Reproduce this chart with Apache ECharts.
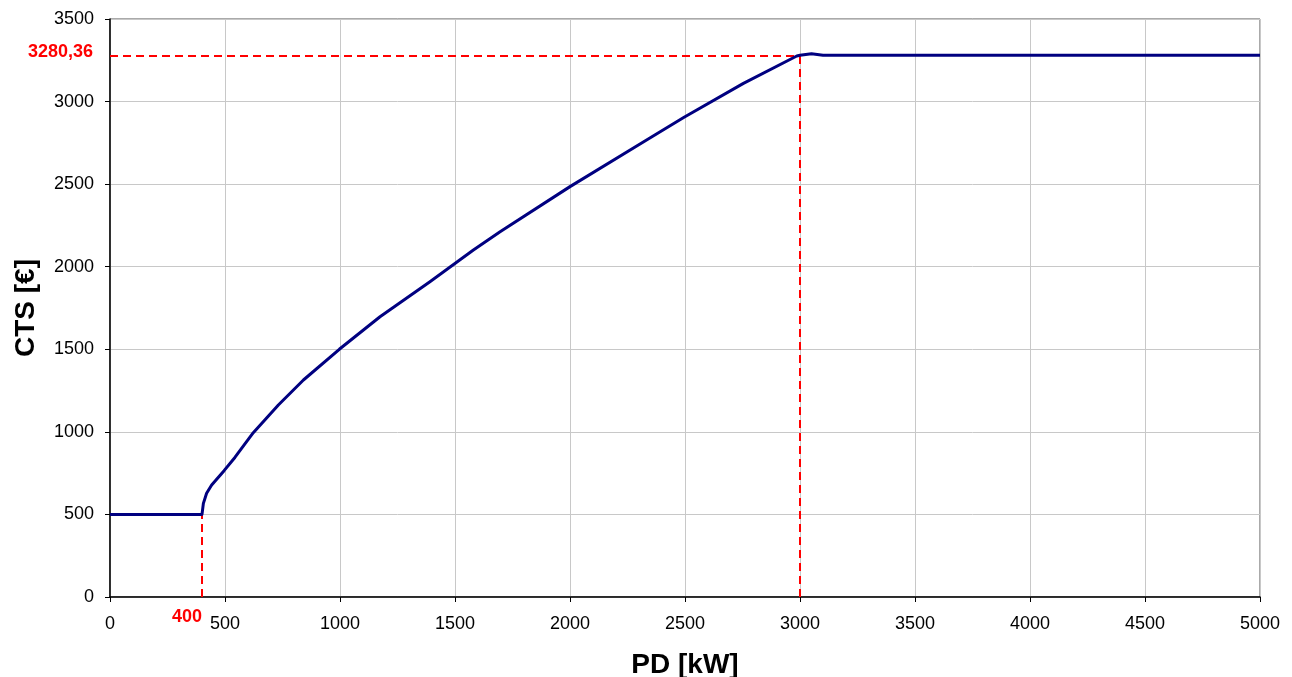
<!DOCTYPE html>
<html>
<head>
<meta charset="utf-8">
<script src="https://cdn.jsdelivr.net/npm/echarts@6/dist/echarts.min.js"></script>
<style>html,body{margin:0;padding:0;background:#fff}#c{width:1292px;height:677px}</style>
</head>
<body>
<div id="c"></div>
<script>
// Curve PD [kW] -> CTS [€]
const pdValues  = [0, 400, 406, 420, 442, 496, 543, 623, 732, 841, 997, 1174, 1391, 1580, 1696, 2000, 2333, 2496, 2754, 2986, 3000, 3050, 3100, 5000];
const ctsValues = [500, 500, 567, 628, 678, 765, 845, 995, 1163, 1314, 1500, 1697, 1909, 2101, 2212, 2485, 2767, 2905, 3110, 3276, 3280.36, 3290, 3281, 3280.36];

// Reference markers
const thresholdPD = 400;
const thresholdCTS = 500;
const capPD = 3000;
const capCTS = 3280.36;
const capLabel = '3280,36';
const thresholdLabel = '400';

const xTicks = {min: 0, max: 5000, interval: 500};
const yTicks = {min: 0, max: 3500, interval: 500};

const data = pdValues.map((x, i) => [x, ctsValues[i]]);

const chart = echarts.init(document.getElementById('c'));
const font = '"Liberation Sans", Arial, sans-serif';
const redLabel = {color: '#ff0000', fontWeight: 'bold', fontSize: 18, fontFamily: font};

chart.setOption({
  animation: false,
  grid: {left: 110, right: 32, top: 19, bottom: 80, containLabel: false, outerBoundsMode: 'none',
         show: true, borderColor: '#555', borderWidth: 1},
  xAxis: {
    type: 'value', min: xTicks.min, max: xTicks.max, interval: xTicks.interval,
    name: 'PD [kW]', nameLocation: 'middle', nameGap: 54, nameMoveOverlap: false,
    nameTextStyle: {fontSize: 28, fontWeight: 'bold', color: '#000', fontFamily: font},
    axisLine: {show: true, lineStyle: {color: '#000', width: 1.5}},
    axisTick: {show: true, length: 5, lineStyle: {color: '#000'}},
    axisLabel: {fontSize: 18, color: '#000', margin: 18, fontFamily: font, formatter: v => String(v)},
    splitLine: {show: true, lineStyle: {color: '#c8c8c8', width: 1}}
  },
  yAxis: {
    type: 'value', min: yTicks.min, max: yTicks.max, interval: yTicks.interval,
    name: 'CTS [€]', nameLocation: 'middle', nameGap: 70, nameMoveOverlap: false,
    nameTextStyle: {fontSize: 28, fontWeight: 'bold', color: '#000', fontFamily: font},
    axisLine: {show: true, lineStyle: {color: '#000', width: 1.5}},
    axisTick: {show: true, length: 5, lineStyle: {color: '#000'}},
    axisLabel: {fontSize: 18, color: '#000', margin: 16, fontFamily: font, formatter: v => String(v)},
    splitLine: {show: true, lineStyle: {color: '#c8c8c8', width: 1}}
  },
  series: [{
    type: 'line',
    data: data,
    showSymbol: false,
    smooth: false,
    lineStyle: {color: '#000080', width: 3, join: 'round'},
    z: 3,
    markLine: {
      silent: true,
      symbol: ['none', 'none'],
      lineStyle: {color: '#ff0000', type: [8, 5], width: 2},
      z: 2,
      data: [
        [{coord: [0, capCTS], label: Object.assign({show: true, position: 'start', formatter: capLabel, distance: 17, offset: [0, -3]}, redLabel)},
         {coord: [capPD, capCTS]}],
        [{coord: [capPD, 0], label: {show: false}}, {coord: [capPD, capCTS]}],
        [{coord: [thresholdPD, 0], label: Object.assign({show: true, position: 'start', formatter: thresholdLabel, distance: 11, offset: [-15, 0]}, redLabel)},
         {coord: [thresholdPD, thresholdCTS]}]
      ]
    }
  }]
});
</script>
</body>
</html>
